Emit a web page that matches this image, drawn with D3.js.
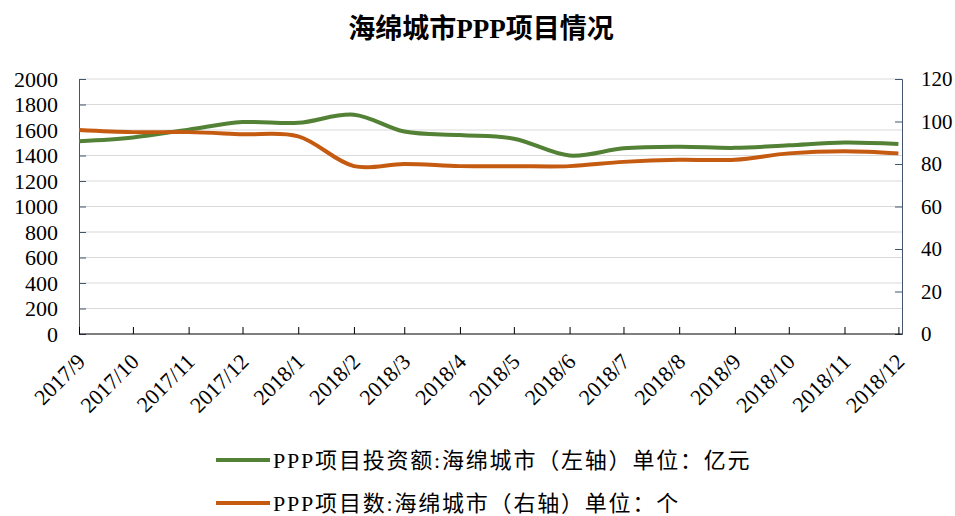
<!DOCTYPE html>
<html>
<head>
<meta charset="utf-8">
<script src="https://cdn.jsdelivr.net/npm/d3@7"></script>
<style>
  body { margin: 0; background: #fff; }
  text { font-family: "Liberation Serif", "Noto Sans CJK SC", serif; }
</style>
</head>
<body>
<div id="chartDiv"></div>
<script>
const w = 955;
const h = 516;

// data
const months = ["2017/9", "2017/10", "2017/11", "2017/12", "2018/1", "2018/2", "2018/3", "2018/4",
                "2018/5", "2018/6", "2018/7", "2018/8", "2018/9", "2018/10", "2018/11", "2018/12"];
const investment = [1512, 1542, 1603, 1662, 1656, 1720, 1588, 1560, 1532, 1400, 1456, 1468, 1460, 1480, 1502, 1490];
const projectCount = [96, 95, 95, 94, 93, 79, 80, 79, 79, 79, 81, 82, 82, 85, 86, 85];
const leftTicks = [0, 200, 400, 600, 800, 1000, 1200, 1400, 1600, 1800, 2000];
const rightTicks = [0, 20, 40, 60, 80, 100, 120];
const seriesNames = ["PPP项目投资额:海绵城市（左轴）单位：亿元", "PPP项目数:海绵城市（右轴）单位：个"];
const seriesColors = ["#538135", "#c55a11"];

const parseMonth = d3.timeParse("%Y/%m");
const dates = months.map(parseMonth);

const plotL = 79, plotR = 902, plotT = 79, plotB = 334;

const svg = d3.select("#chartDiv")
  .append("svg")
  .attr("width", w)
  .attr("height", h);

const x = d3.scaleTime()
  .domain([dates[0], d3.timeDay.offset(dates[dates.length - 1], 2)])
  .range([plotL, plotR]);
const yLeft = d3.scaleLinear().domain([0, 2000]).range([plotB, plotT]);
const yRight = d3.scaleLinear().domain([0, 120]).range([plotB, plotT]);

// title
svg.append("text")
  .attr("x", 481)
  .attr("y", 38)
  .attr("text-anchor", "middle")
  .attr("font-size", 27)
  .attr("font-weight", "bold")
  .text("海绵城市PPP项目情况");

// gridlines
svg.append("g")
  .selectAll("line")
  .data(leftTicks.slice(1))
  .enter()
  .append("line")
  .attr("x1", plotL)
  .attr("x2", plotR)
  .attr("y1", d => yLeft(d))
  .attr("y2", d => yLeft(d))
  .attr("stroke", "#d9d9d9")
  .attr("stroke-width", 1);

// left axis
const leftAxis = d3.axisRight(yLeft).tickValues(leftTicks).tickSize(7).tickFormat(d3.format("d"));
const gl = svg.append("g").attr("transform", `translate(${plotL},0)`).call(leftAxis);
gl.select(".domain").attr("stroke", "#44546a");
gl.selectAll(".tick line").attr("stroke", "#44546a");
gl.selectAll(".tick text")
  .attr("x", -21)
  .attr("text-anchor", "end")
  .attr("font-size", 22)
  .attr("font-family", "Liberation Serif")
  .attr("fill", "#000");

// right axis
const rightAxis = d3.axisLeft(yRight).tickValues(rightTicks).tickSize(7);
const gr = svg.append("g").attr("transform", `translate(${plotR},0)`).call(rightAxis);
gr.select(".domain").attr("stroke", "#44546a");
gr.selectAll(".tick line").attr("stroke", "#44546a");
gr.selectAll(".tick text")
  .attr("x", 19)
  .attr("text-anchor", "start")
  .attr("font-size", 21)
  .attr("font-family", "Liberation Serif")
  .attr("fill", "#000");

// bottom axis
const bottomAxis = d3.axisTop(x).tickValues(dates).tickSize(7).tickFormat((d, i) => months[i]);
const gb = svg.append("g").attr("transform", `translate(0,${plotB})`).call(bottomAxis);
gb.select(".domain").attr("stroke", "#000").attr("d", `M${plotL},0H${plotR}`);
gb.selectAll(".tick line").attr("stroke", "#000");
gb.selectAll(".tick text")
  .attr("font-size", 22)
  .attr("font-family", "Liberation Serif")
  .attr("fill", "#000")
  .attr("text-anchor", "end")
  .attr("x", 0)
  .attr("y", 0)
  .attr("dy", null)
  .attr("transform", "translate(7,29) rotate(-45)");

// lines
const lineLeft = d3.line()
  .x((d, i) => x(dates[i]))
  .y(d => yLeft(d))
  .curve(d3.curveCatmullRom.alpha(0.5));
const lineRight = d3.line()
  .x((d, i) => x(dates[i]))
  .y(d => yRight(d))
  .curve(d3.curveCatmullRom.alpha(0.5));

svg.append("path")
  .datum(investment)
  .attr("d", lineLeft)
  .attr("fill", "none")
  .attr("stroke", seriesColors[0])
  .attr("stroke-width", 4);

svg.append("path")
  .datum(projectCount)
  .attr("d", lineRight)
  .attr("fill", "none")
  .attr("stroke", seriesColors[1])
  .attr("stroke-width", 4);

// legend
const legend = svg.append("g")
  .selectAll("g")
  .data(seriesNames)
  .enter()
  .append("g")
  .attr("transform", (d, i) => `translate(216,${460 + i * 43})`);
legend.append("line")
  .attr("x1", 0)
  .attr("x2", 54)
  .attr("stroke", (d, i) => seriesColors[i])
  .attr("stroke-width", 4);
legend.append("text")
  .attr("x", 57)
  .attr("y", 8)
  .attr("font-size", 22)
  .attr("letter-spacing", 1.8)
  .text(d => d);
</script>
</body>
</html>
